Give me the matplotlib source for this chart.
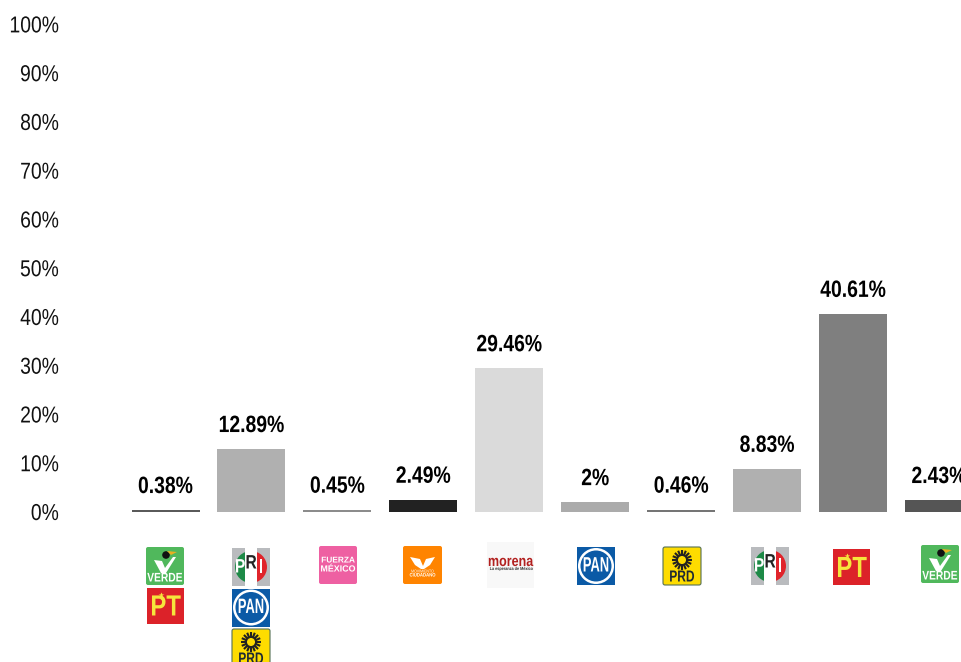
import numpy as np
import matplotlib
matplotlib.use("Agg")
import matplotlib.pyplot as plt
from matplotlib.patches import FancyBboxPatch, Rectangle, Circle, Wedge, Polygon
from matplotlib.patheffects import AbstractPathEffect
from matplotlib.transforms import Affine2D

plt.rcParams['font.family'] = ['Liberation Sans', 'DejaVu Sans']

values = [0.38, 12.89, 0.45, 2.49, 29.46, 2, 0.46, 8.83, 40.61, 2.43]
labels = ['0.38%', '12.89%', '0.45%', '2.49%', '29.46%', '2%', '0.46%', '8.83%', '40.61%', '2.43%']
colors = ['#5a5a5a', '#b0b0b0', '#8c8c8c', '#222222', '#dadada', '#ababab', '#757575', '#b0b0b0', '#7f7f7f', '#555555']
ticks = list(range(0, 101, 10))
tick_labels = [f'{t}%' for t in ticks]
logos = [['VERDE', 'PT'], ['PRI', 'PAN', 'PRD'], ['FM'], ['MC'], ['MORENA'], ['PAN'], ['PRD'], ['PRI'], ['PT'], ['VERDE']]
logo_left = [146, 232, 319, 403, 487, 577, 663, 751, 833, 921]
logo_top = [547, 548, 546, 546, 542, 547, 547, 547, 549, 545]


class Squeeze(AbstractPathEffect):
    """Draw a text narrower, as the reference's condensed type, about its centre or right end."""

    def __init__(self, sx, right=False, dy=0.0):
        super().__init__()
        self.sx, self.right, self.dy = sx, right, dy

    def draw_path(self, renderer, gc, tpath, affine, rgbFace=None):
        ext = affine.transform_path(tpath).get_extents()
        px = ext.x1 if self.right else 0.5 * (ext.x0 + ext.x1)
        a = affine + Affine2D().translate(-px, 0).scale(self.sx, 1).translate(px, self.dy)
        renderer.draw_path(gc, tpath, a, rgbFace)


W, H = 961, 662
fig = plt.figure(figsize=(W / 100, H / 100), dpi=100, facecolor='white')
ax = fig.add_axes([60 / W, (H - 512) / H, (W - 60) / W, 487.6 / H])
step = 85.95
first = 165.5
ax.set_xlim((60 - first) / step, (W - first) / step)
ax.set_ylim(0, 100)
ax.bar(range(len(values)), values, width=68 / step, color=colors, linewidth=0)
for s in ax.spines.values():
    s.set_visible(False)
ax.set_xticks([])
ax.set_yticks(ticks)
ax.set_yticklabels(tick_labels, fontsize=16.6, color='#111111')
ax.tick_params(axis='y', length=0, pad=0.8)
for t in ax.get_yticklabels():
    t.set_path_effects([Squeeze(0.84, right=True, dy=1.0)])
for i, (v, l) in enumerate(zip(values, labels)):
    ax.annotate(l, (i, v), xytext=(0, 17), textcoords='offset points', ha='center', va='center',
                fontsize=17, fontweight='bold', color='black', annotation_clip=False,
                path_effects=[Squeeze(0.82)])

ov = fig.add_axes([0, 0, 1, 1], facecolor='none')
ov.set_xlim(0, W)
ov.set_ylim(H, 0)
ov.axis('off')


def ltext(x, y, s, size, color, sx=0.8, weight='bold'):
    ov.text(x, y, s, ha='center', va='center', fontsize=size, fontweight=weight, color=color,
            path_effects=[Squeeze(sx)])


def round_box(x, y, w, h, color, edge='none'):
    ov.add_patch(FancyBboxPatch((x + 2, y + 2), w - 4, h - 4, boxstyle='round,pad=2', fc=color, ec=edge, lw=0.8))


def logo_verde(x, y):
    round_box(x, y, 38, 38, '#50b85c')
    ov.add_patch(Polygon([(x + 8, y + 13), (x + 16, y + 14), (x + 19, y + 21), (x + 27, y + 10),
                          (x + 30, y + 10), (x + 20, y + 26), (x + 15, y + 26)], fc='white', ec='none'))
    ov.add_patch(Circle((x + 20, y + 8), 3.8, fc='#111111', ec='none'))
    ov.add_patch(Polygon([(x + 21, y + 4), (x + 31, y + 5), (x + 25, y + 8)], fc='#e8b020', ec='none'))
    ltext(x + 19, y + 31.5, 'VERDE', 9, 'white', 0.82)


def logo_pt(x, y):
    ov.add_patch(Rectangle((x, y), 37, 36, fc='#dc2229', ec='none'))
    ltext(x + 18.5, y + 20, 'PT', 21, '#f6e53c', 0.82)
    ov.plot([x + 14], [y + 7], marker='*', ms=5, color='#f6e53c', mec='none')


def logo_pri(x, y):
    ov.add_patch(Rectangle((x, y), 38, 38, fc='#b9bbbe', ec='none'))
    ov.add_patch(Rectangle((x + 13, y), 12, 38, fc='white', ec='none'))
    cx, cy = x + 19, y + 19
    ov.add_patch(Wedge((cx, cy), 16, 90, 270, width=16, fc='#1d8a47', ec='none'))
    ov.add_patch(Wedge((cx, cy), 16, 270, 90, width=16, fc='#e0242b', ec='none'))
    ov.add_patch(Rectangle((x + 13, y + 3), 12, 32, fc='white', ec='none'))
    ltext(x + 8, cy + 1, 'P', 14, 'white', 0.8)
    ltext(x + 19, cy - 3, 'R', 14, '#222222', 0.8)
    ltext(x + 29, cy + 1, 'I', 14, 'white', 0.8)


def logo_pan(x, y):
    ov.add_patch(Rectangle((x, y), 38, 38, fc='#0b5aa6', ec='none'))
    ov.add_patch(Circle((x + 19, y + 19), 18, fc='white', ec='none'))
    ov.add_patch(Circle((x + 19, y + 19), 15.5, fc='#0b5aa6', ec='none'))
    ltext(x + 19, y + 19, 'PAN', 15, 'white', 0.62)


def logo_prd(x, y):
    round_box(x, y, 38, 38, '#fedc00', edge='#557055')
    cx, cy = x + 19, y + 13
    for a in np.linspace(0, 2 * np.pi, 16, endpoint=False):
        ov.plot([cx + 5 * np.cos(a), cx + 10 * np.cos(a)], [cy + 5 * np.sin(a), cy + 10 * np.sin(a)],
                color='#222222', lw=1.5, solid_capstyle='butt')
    ov.add_patch(Circle((cx, cy), 5, fc='#fedc00', ec='#222222', lw=1.4))
    ltext(x + 19, y + 30, 'PRD', 11.5, '#1f2a33', 0.75)


def logo_fm(x, y):
    round_box(x, y, 38, 38, '#ee60a2')
    ltext(x + 19, y + 15, 'FUERZA', 6, 'white', 1.0)
    ltext(x + 19, y + 23, 'MÉXICO', 6.4, 'white', 1.0)


def logo_mc(x, y):
    round_box(x, y, 39, 38, '#ff8400')
    ov.add_patch(Polygon([(x + 7, y + 11), (x + 17, y + 13), (x + 20, y + 20), (x + 23, y + 13), (x + 32, y + 11),
                          (x + 27, y + 19), (x + 21, y + 23), (x + 18, y + 23), (x + 12, y + 19)], fc='white', ec='none'))
    ltext(x + 19.5, y + 25.5, 'MOVIMIENTO', 3, 'white', 0.85, weight='normal')
    ltext(x + 19.5, y + 29, 'CIUDADANO', 3.6, 'white', 0.85)


def logo_morena(x, y):
    ov.add_patch(Rectangle((x, y), 47, 46, fc='#f8f8f8', ec='none'))
    ltext(x + 23.5, y + 20, 'morena', 11, '#b2201f', 0.82)
    ltext(x + 23.5, y + 27, 'La esperanza de México', 3.2, '#333333', 0.85)


drawers = {'VERDE': logo_verde, 'PT': logo_pt, 'PRI': logo_pri, 'PAN': logo_pan, 'PRD': logo_prd,
           'FM': logo_fm, 'MC': logo_mc, 'MORENA': logo_morena}
for names, lx, ly in zip(logos, logo_left, logo_top):
    for j, name in enumerate(names):
        drawers[name](lx + (1 if name == 'PT' and j == 1 else 0), ly + j * 40.5)

fig.savefig('out.png', dpi=100, facecolor='white')
